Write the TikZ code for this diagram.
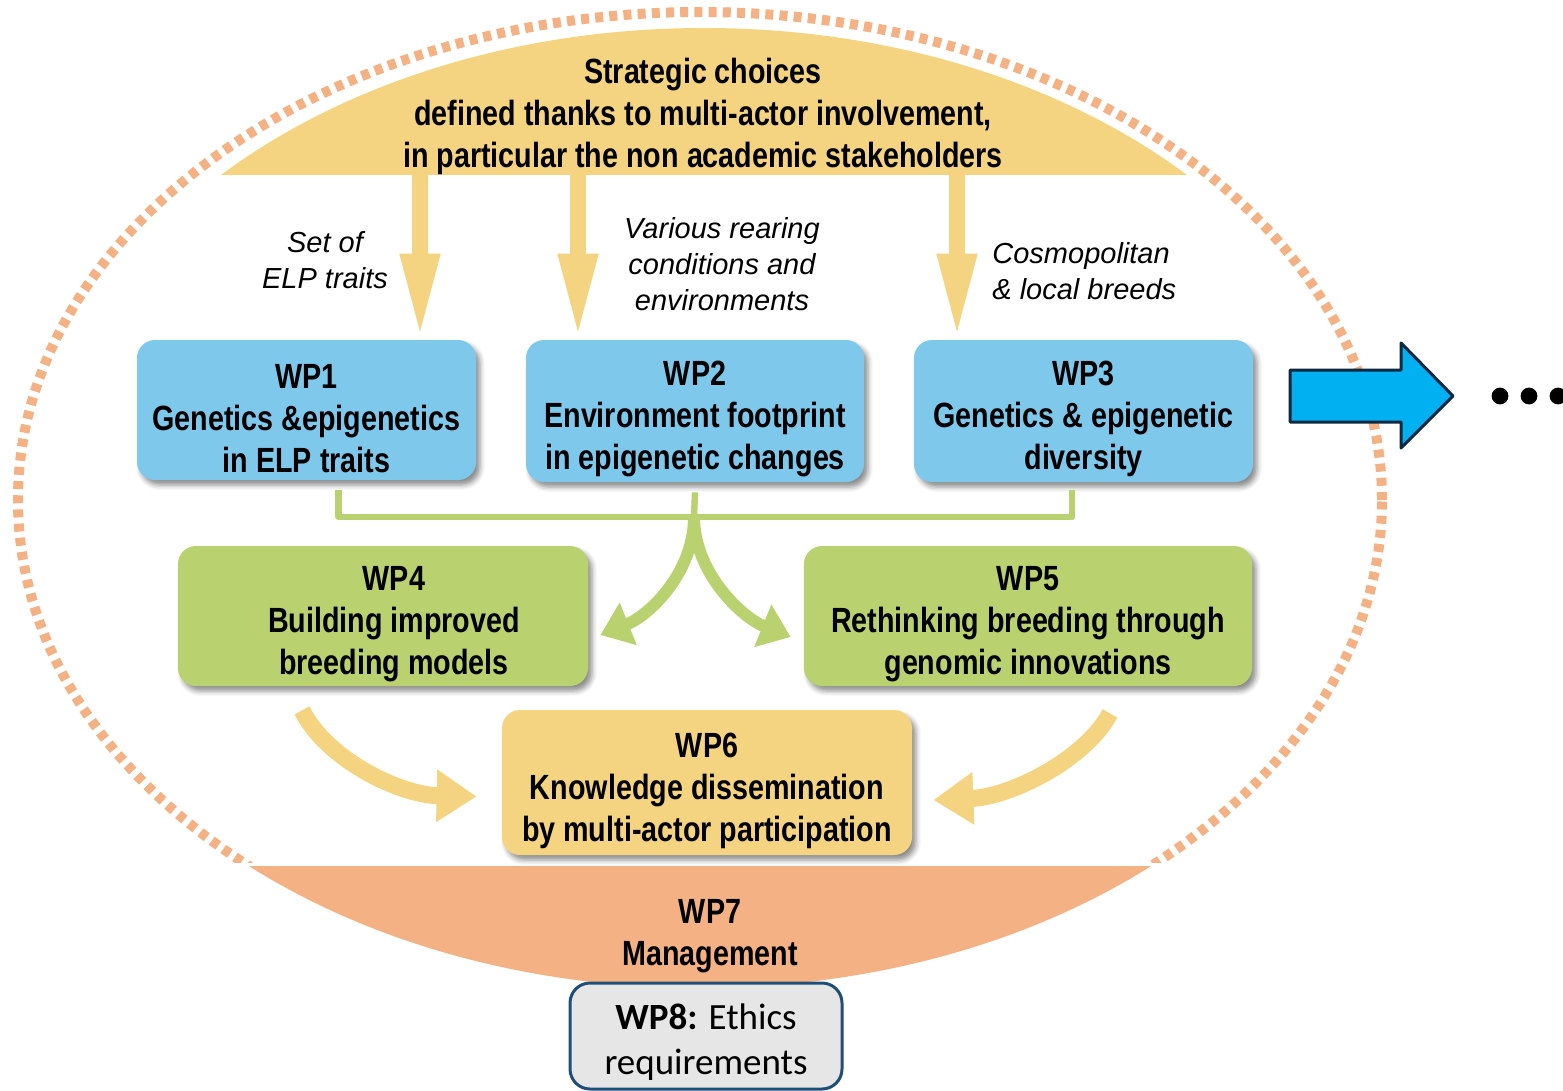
\documentclass[tikz,border=0pt]{standalone}
\usepackage{fontspec}
\setmainfont{Liberation Sans}
\newfontfamily\narrowfont[FakeStretch=0.82]{Liberation Sans}
\newfontfamily\calibrifont{Carlito}
\usetikzlibrary{arrows.meta,shadows.blur}
\definecolor{wpyellow}{HTML}{F4D480}
\definecolor{wpblue}{HTML}{7EC8EC}
\definecolor{wpgreen}{HTML}{B9D16E}
\definecolor{wporange}{HTML}{F4B183}
\definecolor{wpgray}{HTML}{E7E6E6}
\definecolor{wpnavy}{HTML}{1F4E79}
\definecolor{nextblue}{HTML}{00B0F0}
\definecolor{nextnavy}{HTML}{0E2841}
\newcommand\wpstrut{\rule{0pt}{20.5pt}}
\begin{document}
\begin{tikzpicture}[x=0.5pt,y=-0.5pt,line join=round,
  wp/.style={rounded corners=9pt,inner sep=0pt,align=center,minimum height=70pt,
    font=\narrowfont\bfseries\fontsize{17.5}{21}\selectfont,
    blur shadow={shadow xshift=2pt,shadow yshift=-2.5pt,shadow blur radius=2.5pt,shadow opacity=45}},
  note/.style={align=center,inner sep=0pt,font=\itshape\fontsize{14.5}{18}\selectfont},
  downarrow/.style={wpyellow,line width=8pt,-{Triangle[width=18pt,length=43pt]}},
  curvegreen/.style={wpgreen,line width=6pt,-{Triangle[width=22pt,length=15pt]}},
  curveyellow/.style={wpyellow,line width=8.5pt,-{Triangle[width=25pt,length=20pt]}},
  bracket/.style={wpgreen,line width=3.2pt}]
\useasboundingbox (0,0) rectangle (1563,1091);

\begin{scope}
\clip (0,0) rectangle (1563,862);
\draw[wporange,line width=5pt,dash pattern=on 4pt off 3.1pt] (700,500) ellipse [x radius=341pt,y radius=244pt];
\end{scope}
\begin{scope}
\clip (0,866) rectangle (1563,1091);
\fill[wporange] (700,500) ellipse [x radius=341pt,y radius=244pt];
\end{scope}
\begin{scope}
\clip (0,0) rectangle (1563,175);
\fill[wpyellow] (704,500) ellipse [x radius=333pt,y radius=236pt];
\end{scope}

\node[font=\narrowfont\bfseries\fontsize{17.5}{21}\selectfont,align=center] (strat) at (703,116)
  {Strategic choices\\defined thanks to multi-actor involvement,\\in particular the non academic stakeholders};

\node[wp,fill=wpblue,minimum width=169.5pt] (wp1) at (306.5,410) {\wpstrut WP1\\Genetics \&epigenetics\\in ELP traits};
\node[wp,fill=wpblue,minimum width=169pt,minimum height=71pt] (wp2) at (695,411) {\wpstrut WP2\\Environment footprint\\in epigenetic changes};
\node[wp,fill=wpblue,minimum width=169.5pt,minimum height=71pt] (wp3) at (1083.5,411) {\wpstrut WP3\\Genetics \& epigenetic\\diversity};
\node[wp,fill=wpgreen,minimum width=205pt] (wp4) at (383,616) {\wpstrut\hspace*{11pt}WP4\\\hspace*{11pt}Building improved\\\hspace*{11pt}breeding models};
\node[wp,fill=wpgreen,minimum width=224pt] (wp5) at (1028,616) {\wpstrut WP5\\Rethinking breeding through\\genomic innovations};
\node[wp,fill=wpyellow,minimum width=205pt,minimum height=72.5pt] (wp6) at (707,782.5) {\wpstrut WP6\\Knowledge dissemination\\by multi-actor participation};
\node[font=\narrowfont\bfseries\fontsize{17.5}{21}\selectfont,align=center] (wp7) at (710,936) {WP7\\Management};
\node[rounded corners=10pt,draw=wpnavy,line width=1.5pt,fill=wpgray,inner sep=0pt,align=center,
  minimum width=136pt,minimum height=53pt,font=\calibrifont\fontsize{18.5}{22.5}\selectfont] (wp8) at (706,1036)
  {\rule{0pt}{19pt}\textbf{WP8:} Ethics\\requirements};

\node[note] (set) at (325,260) {Set of\\ELP traits};
\node[note] (rearing) at (722,264) {Various rearing\\conditions and\\environments};
\node[note,align=left,anchor=west] (breeds) at (992,271) {Cosmopolitan\\\& local breeds};

\coordinate (s1) at (420,170);
\coordinate (s2) at (578,170);
\coordinate (s3) at (957,170);
\draw[downarrow] (s1) -- ([yshift=0pt]wp1.north -| s1);
\draw[downarrow] (s2) -- ([yshift=0pt]wp2.north -| s2);
\draw[downarrow] (s3) -- ([yshift=0pt]wp3.north -| s3);

\coordinate (join) at (694,517);
\draw[bracket] ([xshift=16pt,yshift=-5pt]wp1.south) |- (join) -| ([xshift=-5.75pt,yshift=-4pt]wp3.south);
\draw[bracket] ([yshift=-5pt]wp2.south) -- (join);
\draw[curvegreen] (join) .. controls (694,572) and (650,615) .. ([xshift=6pt,yshift=-9.5pt]wp4.east);
\draw[curvegreen] (join) .. controls (694,572) and (741,617) .. ([xshift=-6.5pt,yshift=-10.5pt]wp5.west);

\draw[curveyellow] ([xshift=-40.5pt,yshift=-12pt]wp4.south) .. controls (327,760) and (400,795) .. ([xshift=-12.5pt,yshift=-7pt]wp6.west);
\draw[curveyellow] ([xshift=41pt,yshift=-13.5pt]wp5.south) .. controls (1085,760) and (1010,797) .. ([xshift=10.5pt,yshift=-8.75pt]wp6.east);

\filldraw[fill=nextblue,draw=nextnavy,line width=1.5pt] (1290,370) -- (1401,370) -- (1401,343) -- (1453,396) -- (1401,448) -- (1401,422) -- (1290,422) -- cycle;
\foreach \x in {1500,1529,1558}
  \fill (\x,396) circle (4.2pt);
\end{tikzpicture}
\end{document}
